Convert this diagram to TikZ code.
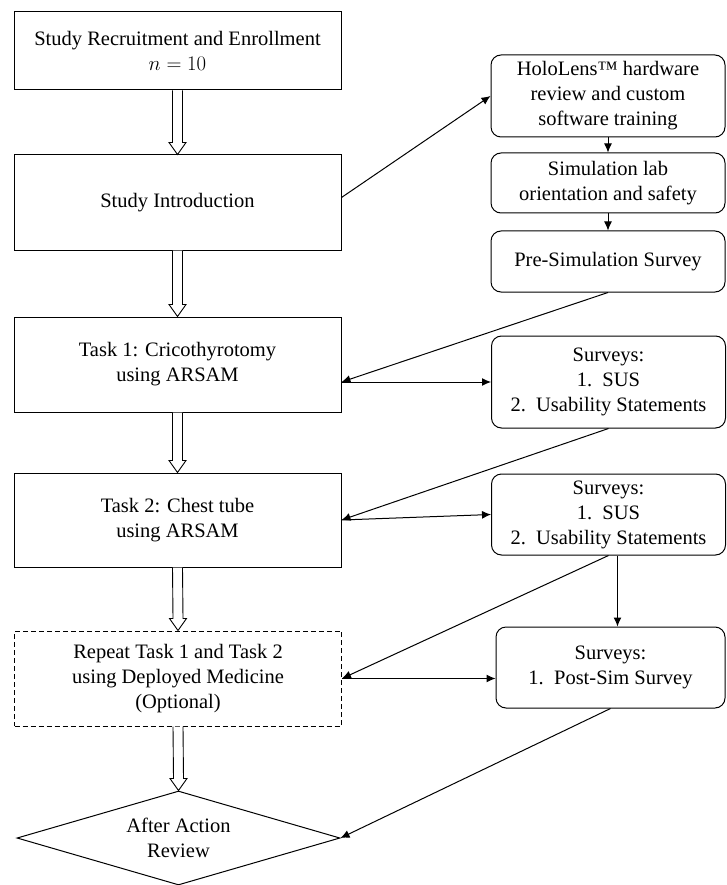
\documentclass[tikz,border=0pt]{standalone}
\usepackage{fontspec}
\setmainfont{Liberation Serif}
\usetikzlibrary{shapes.geometric,calc,arrows.meta}

\tikzset{
  stepbox/.style={draw, line width=1pt, minimum width=327pt, align=center, inner sep=0pt},
  sidebox/.style={draw, line width=1pt, rounded corners=10pt, minimum width=234pt, align=center, inner sep=0pt},
  optbox/.style={stepbox, dash pattern=on 5pt off 3pt},
  reviewbox/.style={draw, line width=1pt, diamond, aspect=3.4, minimum width=323pt, minimum height=94pt, align=center, inner sep=0pt},
  link/.style={line width=1pt, -{Latex[length=9pt,width=8pt]}}
}

\newcommand{\hollowarrow}[2]{%
  \draw [line width=0.9pt, fill=white] ($(#1.south)+(-5,0)$) -- ($(#2.north)+(-5,12)$) -- ($(#2.north)+(-8.5,12)$) -- (#2.north) -- ($(#2.north)+(8.5,12)$) -- ($(#2.north)+(5,12)$) -- ($(#1.south)+(5,0)$) ;}

\begin{document}
\begin{tikzpicture}[x=1pt, y=1pt, font=\fontsize{20.5}{25}\selectfont]

\useasboundingbox (0,0) rectangle (726,-885) ;

% main flow
\node (enroll) at (177.5,-51) [stepbox, minimum height=78pt] {Study Recruitment and Enrollment\\ $n = 10$} ;
\node (intro) at (177.5,-202.5) [stepbox, minimum height=95pt] {Study Introduction} ;
\node (task1) at (177.5,-364.5) [stepbox, minimum height=95pt] {Task 1: Cricothyrotomy\\ using ARSAM} ;
\node (task2) at (177.5,-520) [stepbox, minimum height=94pt] {Task 2: Chest tube\\ using ARSAM} ;
\node (repeat) at (178,-678.5) [optbox, minimum height=95pt] {Repeat Task 1 and Task 2\\ using Deployed Medicine\\ (Optional)} ;
\node (review) at (178.5,-838) [reviewbox] {After Action\\ Review} ;

% side boxes
\node (holo) at (608,-96) [sidebox, minimum height=82pt] {HoloLens™ hardware\\ review and custom\\ software training} ;
\node (lab) at (608,-183) [sidebox, minimum height=60pt] {Simulation lab\\ orientation and safety} ;
\node (presim) at (608,-261.5) [sidebox, minimum height=61pt] {Pre-Simulation Survey} ;
\node (survey1) at (608.5,-382) [sidebox, minimum height=92pt] {Surveys:\\ 1.\enspace SUS\\ 2.\enspace Usability Statements} ;
\node (survey2) at (608.5,-514.5) [sidebox, minimum height=81pt] {Surveys:\\ 1.\enspace SUS\\ 2.\enspace Usability Statements} ;
\node (survey3) at (610.5,-667.5) [sidebox, minimum width=229pt, minimum height=81pt] {Surveys:\\ 1.\enspace Post-Sim Survey} ;

\hollowarrow{enroll}{intro}
\hollowarrow{intro}{task1}
\hollowarrow{task1}{task2}
\hollowarrow{task2}{repeat}
\hollowarrow{repeat}{review}

\draw [link] ([yshift=5pt]intro.east) -- (holo.west) ;
\draw [link] (holo.south) -- (lab.north) ;
\draw [link] (lab.south) -- (presim.north) ;
\draw [link] (presim.south) -- (task1.east |- survey1.west) ;
\draw [link] (task1.east |- survey1.west) -- (survey1.west) ;
\draw [link] (survey1.south) -- (task2.east) ;
\draw [link] (task2.east) -- (survey2.west) ;
\draw [link] (survey2.south) -- (repeat.east) ;
\draw [link] ([xshift=9pt]survey2.south) -- ([xshift=9pt]survey2.south |- survey3.north) ;
\draw [link] (repeat.east) -- (survey3.west |- repeat.east) ;
\draw [link] (survey3.south) -- (review.east) ;
\end{tikzpicture}
\end{document}
